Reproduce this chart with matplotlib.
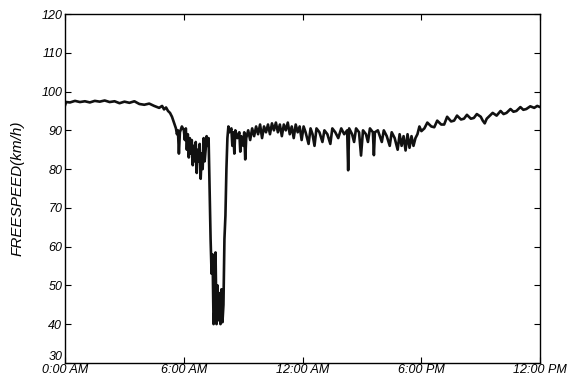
import matplotlib
matplotlib.use('Agg')
import matplotlib.pyplot as plt

# hour of day and free speed (km/h)
# (each line of hours matches the same line of speed)
hours = [
    0.0, 0.05, 0.25, 0.5, 0.75, 1.0, 1.25, 1.5, 1.75, 2.0, 2.25, 2.5, 2.75,
    3.0, 3.25, 3.5, 3.75, 4.0, 4.25, 4.5, 4.75, 4.9, 5.0, 5.1, 5.2, 5.3, 5.4,
    5.5, 5.6, 5.65, 5.7, 5.75, 5.8, 5.9, 6.0, 6.05, 6.1, 6.15, 6.2, 6.25,
    6.3, 6.35, 6.4, 6.45, 6.5, 6.55, 6.6, 6.65, 6.7, 6.75, 6.8, 6.85, 6.9, 6.95,
    7.0, 7.05, 7.1, 7.15, 7.2, 7.25, 7.3, 7.35, 7.4, 7.45,
    7.5, 7.55, 7.6, 7.65, 7.7, 7.75, 7.8, 7.85, 7.9, 7.95, 8.0,
    8.05, 8.1, 8.15, 8.2, 8.25, 8.3, 8.4, 8.45, 8.5, 8.55, 8.6, 8.7,
    8.8, 8.85, 8.9, 9.0, 9.05, 9.1, 9.15, 9.25, 9.35, 9.45, 9.55, 9.65,
    9.75, 9.85, 9.95, 10.05, 10.15, 10.25, 10.35, 10.45, 10.55, 10.65, 10.75, 10.85,
    10.95, 11.05, 11.15, 11.25, 11.35, 11.45, 11.55, 11.65, 11.75, 11.85, 11.95, 12.05,
    12.15, 12.3, 12.4, 12.5, 12.6, 12.7, 12.85, 13.0, 13.1, 13.25, 13.4, 13.5,
    13.65, 13.8, 13.95, 14.1, 14.25, 14.3, 14.35, 14.5, 14.6, 14.7, 14.85, 14.95,
    15.05, 15.2, 15.3, 15.4, 15.55, 15.6, 15.65, 15.8, 16.0, 16.1, 16.25, 16.4,
    16.5, 16.65, 16.8, 16.9, 17.0, 17.1, 17.2, 17.3, 17.4, 17.5, 17.6, 17.7,
    17.8, 17.9, 18.0, 18.15, 18.3, 18.5, 18.65, 18.8, 19.0, 19.15, 19.3, 19.5,
    19.65, 19.8, 20.0, 20.15, 20.3, 20.5, 20.65, 20.8, 21.0, 21.1, 21.2, 21.3,
    21.4, 21.6, 21.8, 22.0, 22.15, 22.3, 22.5, 22.65, 22.8, 23.0, 23.15, 23.3,
    23.5, 23.7, 23.85, 24.0,
]
speed = [
    96.5, 97.3, 97.2, 97.6, 97.3, 97.5, 97.2, 97.6, 97.4, 97.7, 97.3, 97.5, 97.0,
    97.4, 97.1, 97.5, 96.8, 96.6, 96.9, 96.3, 95.8, 96.3, 95.4, 95.9, 95.0, 94.5, 93.5,
    92.0, 90.5, 89.0, 90.0, 84.0, 89.5, 91.0, 90.0, 87.5, 90.5, 85.0, 89.0, 83.0,
    88.0, 84.0, 87.5, 81.0, 86.0, 82.0, 87.0, 79.0, 85.0, 82.0, 86.5, 77.5, 84.0, 80.0,
    88.0, 82.0, 85.0, 88.5, 86.0, 88.0, 75.0, 62.0, 53.0, 58.0,
    40.0, 44.0, 58.5, 40.0, 50.0, 41.0, 48.0, 40.0, 49.0, 40.5, 45.0,
    62.0, 68.0, 80.0, 88.0, 91.0, 89.5, 90.5, 86.0, 89.5, 84.0, 90.0, 88.0,
    89.5, 84.5, 88.5, 86.0, 89.5, 82.5, 88.0, 90.0, 87.5, 90.5, 88.5, 91.0,
    89.0, 91.5, 88.0, 91.0, 89.5, 91.5, 89.0, 91.8, 90.0, 92.0, 89.5, 91.5,
    88.5, 91.5, 90.0, 92.0, 89.0, 91.0, 88.0, 91.5, 89.5, 91.0, 87.5, 91.0,
    89.5, 86.5, 90.5, 89.0, 86.0, 90.5, 89.5, 87.0, 90.0, 89.0, 86.5, 90.5,
    89.5, 88.0, 90.5, 89.0, 90.0, 79.7, 90.5, 89.0, 87.0, 90.5, 89.5, 83.5,
    90.0, 89.0, 87.0, 90.5, 89.5, 83.6, 89.5, 90.0, 87.0, 90.0, 88.5, 86.0,
    89.5, 88.0, 85.0, 89.0, 86.0, 88.5, 84.8, 89.0, 85.5, 88.5, 86.0, 88.0,
    89.0, 91.0, 89.8, 90.5, 92.0, 91.0, 90.8, 92.5, 91.5, 91.5, 93.5, 92.3,
    92.5, 93.8, 92.8, 93.0, 94.0, 93.0, 93.2, 94.2, 93.5, 92.5, 91.8, 93.0,
    93.5, 94.5, 93.8, 95.0, 94.2, 94.5, 95.5, 94.8, 95.0, 96.0, 95.3, 95.5,
    96.2, 95.8, 96.3, 96.0,
]

tick_pos = [0, 6, 12, 18, 24]
tick_labels = ['0:00 AM', '6:00 AM', '12:00 AM', '6:00 PM', '12:00 PM']

plt.rcParams['font.family'] = ['Liberation Sans', 'DejaVu Sans']

fig = plt.figure(figsize=(5.71, 3.80), dpi=100)
ax = fig.add_axes([0.114, 0.045, 0.832, 0.918])

ax.plot(hours, speed, color='#111111', linewidth=1.9)

ax.set_xlim(0, 24)
ax.set_ylim(30, 120)
ax.set_xticks(tick_pos)
ax.set_xticklabels(tick_labels, fontsize=9, style='italic')
ax.set_yticks(range(30, 121, 10))
ax.set_yticklabels([str(v) for v in range(30, 121, 10)], fontsize=9,
                   style='italic')
ax.tick_params(direction='in', top=True, right=True, length=4, pad=2,
               width=0.8)
ax.tick_params(axis='x', pad=1)
ax.set_ylabel('FREESPEED(km/h)', fontsize=11, style='italic', labelpad=12)

# bottom y label sits a bit higher so it clears the first time label
ax.get_yticklabels()[0].set_verticalalignment('bottom')

for s in ax.spines.values():
    s.set_linewidth(1.0)

fig.savefig('out.png', dpi=100)
